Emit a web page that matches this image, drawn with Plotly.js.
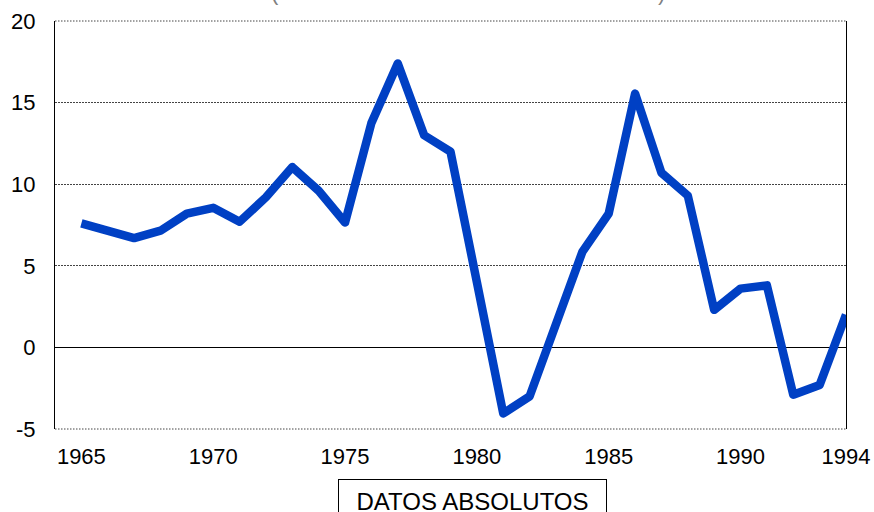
<!DOCTYPE html>
<html>
<head>
<meta charset="utf-8">
<script src="https://cdn.plot.ly/plotly-3.0.1.min.js"></script>
<style>
html,body{margin:0;padding:0;background:#fff;}
#chart{width:874px;height:512px;}
.js-line{stroke-linejoin:round !important;}
</style>
</head>
<body>
<div id="chart"></div>
<script>
var years = [1965,1966,1967,1968,1969,1970,1971,1972,1973,1974,1975,1976,1977,1978,1979,
             1980,1981,1982,1983,1984,1985,1986,1987,1988,1989,1990,1991,1992,1993,1994];
var values = [7.6,7.2,6.7,7.15,8.2,8.55,7.7,9.2,11.05,9.6,7.65,13.75,17.4,13.0,12.0,
              4.0,-4.05,-3.0,1.4,5.85,8.2,15.55,10.7,9.3,2.3,3.6,3.8,-2.9,-2.3,2.0];
var xTickVals = [1965,1970,1975,1980,1985,1990,1994];
var xTickText = ['1965','1970','1975','1980','1985','1990','1994'];
var yTickVals = [-5,0,5,10,15,20];
var yTickText = ['-5','0','5','10','15','20'];
var boxLabel = 'DATOS ABSOLUTOS';

var font = {family:'"Liberation Sans", Arial, sans-serif', size:22, color:'#000'};

var trace = {
  x: years, y: values, type:'scatter', mode:'lines',
  line:{color:'#0040C4', width:8.5},
  hoverinfo:'skip'
};

var layout = {
  width:874, height:512,
  margin:{l:55, r:28, t:21, b:83, pad:0},
  paper_bgcolor:'#fff', plot_bgcolor:'#fff',
  showlegend:false,
  font: font,
  xaxis:{
    range:[1964,1994], tickmode:'array', tickvals:xTickVals, ticktext:xTickText,
    showgrid:false, zeroline:false, showline:false, ticks:'',
    ticklabelstandoff:12, tickfont:font
  },
  yaxis:{
    range:[-5,20], tickmode:'array', tickvals:yTickVals, ticktext:yTickText,
    showgrid:true, gridcolor:'#444', gridwidth:1, griddash:'1.5px,1.5px',
    zeroline:true, zerolinecolor:'#000', zerolinewidth:1,
    showline:true, mirror:true, linecolor:'#000', linewidth:1,
    ticks:'', ticklabelstandoff:14, tickfont:font
  },
  shapes:[
    {type:'line', xref:'paper', yref:'paper', x0:0, x1:1, y0:0, y1:0,
     line:{color:'#444', width:1, dash:'1.5px,1.5px'}},
    {type:'line', xref:'paper', yref:'paper', x0:0, x1:1, y0:1, y1:1,
     line:{color:'#444', width:1, dash:'1.5px,1.5px'}}
  ],
  annotations:[
    {text:boxLabel, xref:'paper', yref:'paper', x:0.528, y:-0.1225,
     xanchor:'center', yanchor:'top', showarrow:false,
     font:{family:'"Liberation Sans", Arial, sans-serif', size:24, color:'#000'},
     bordercolor:'#000', borderwidth:1, borderpad:0,
     width:267, height:42, align:'center', valign:'middle'},
    {text:'(', xref:'paper', yref:'paper', x:(275-55)/791, y:1, yshift:14,
     xanchor:'center', yanchor:'bottom', showarrow:false,
     font:{family:'"Liberation Sans", Arial, sans-serif', size:22, color:'#808080'}},
    {text:')', xref:'paper', yref:'paper', x:(661-55)/791, y:1, yshift:14,
     xanchor:'center', yanchor:'bottom', showarrow:false,
     font:{family:'"Liberation Sans", Arial, sans-serif', size:22, color:'#808080'}}
  ]
};

Plotly.newPlot('chart', [trace], layout, {displayModeBar:false, staticPlot:true});
</script>
</body>
</html>
